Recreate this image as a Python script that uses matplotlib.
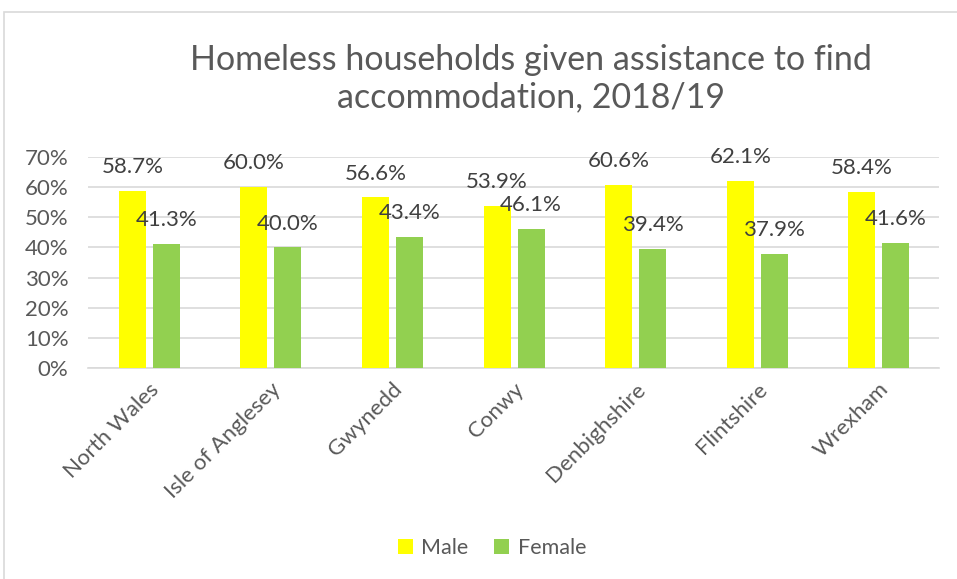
import numpy as np
import matplotlib.pyplot as plt
from matplotlib.patches import Rectangle

plt.rcParams['font.family'] = ['Lato', 'DejaVu Sans']

areas = ["North Wales", "Isle of Anglesey", "Gwynedd", "Conwy",
         "Denbighshire", "Flintshire", "Wrexham"]
male = [58.7, 60.0, 56.6, 53.9, 60.6, 62.1, 58.4]
female = [41.3, 40.0, 43.4, 46.1, 39.4, 37.9, 41.6]

text_col = "#595959"
grid_col = "#d9d9d9"

fig = plt.figure(figsize=(9.57, 5.79), dpi=100)
# light border round the chart area
fig.patches.append(Rectangle((4 / 957, -0.1), 1.2, 1.1 - 12 / 579,
                             transform=fig.transFigure, fill=False,
                             edgecolor=grid_col, linewidth=1.2))

ax = fig.add_axes([88 / 957, 1 - 368 / 579, (939 - 88) / 957, (368 - 157) / 579])

x = np.arange(len(areas))
w = 0.222
b1 = ax.bar(x - 0.135, male, w, color="#FFFF00", label="Male", zorder=3)
b2 = ax.bar(x + 0.145, female, w, color="#92D050", label="Female", zorder=3)

for bars, vals in ((b1, male), (b2, female)):
    for r, v in zip(bars, vals):
        ax.annotate(f"{v:.1f}%", (r.get_x() + r.get_width() / 2, v),
                    xytext=(0, 10), textcoords="offset points",
                    ha="center", va="bottom", fontsize=16, color="#404040")

ax.set_xlim(-0.5, len(areas) - 0.5)
ax.set_ylim(0, 70)
ax.set_yticks(range(0, 71, 10))
ax.set_yticklabels([f"{t}%" for t in range(0, 71, 10)], fontsize=16, color=text_col)
ax.set_xticks(x)
ax.set_xticklabels(areas, rotation=45, ha="right", rotation_mode="anchor",
                   fontsize=16, color=text_col)
ax.tick_params(axis="y", length=0, pad=14)
ax.tick_params(axis="x", length=0, pad=8)
ax.yaxis.grid(True, color=grid_col, linewidth=1.2, zorder=0)
for s in ax.spines.values():
    s.set_visible(False)
ax.spines["bottom"].set_visible(True)
ax.spines["bottom"].set_color(grid_col)
ax.spines["bottom"].set_linewidth(1.2)

fig.text(531 / 957, 1 - 79 / 579,
         "Homeless households given assistance to find\naccommodation, 2018/19",
         ha="center", va="center", fontsize=24.5, color=text_col, linespacing=1.2)

fig.legend(loc="center", bbox_to_anchor=(492 / 957, 1 - 548 / 579), ncol=2,
           frameon=False, fontsize=15.5, labelcolor=text_col, handlelength=0.7,
           handleheight=0.7, handletextpad=0.4, columnspacing=1.2)

fig.savefig("out.png", dpi=100)
